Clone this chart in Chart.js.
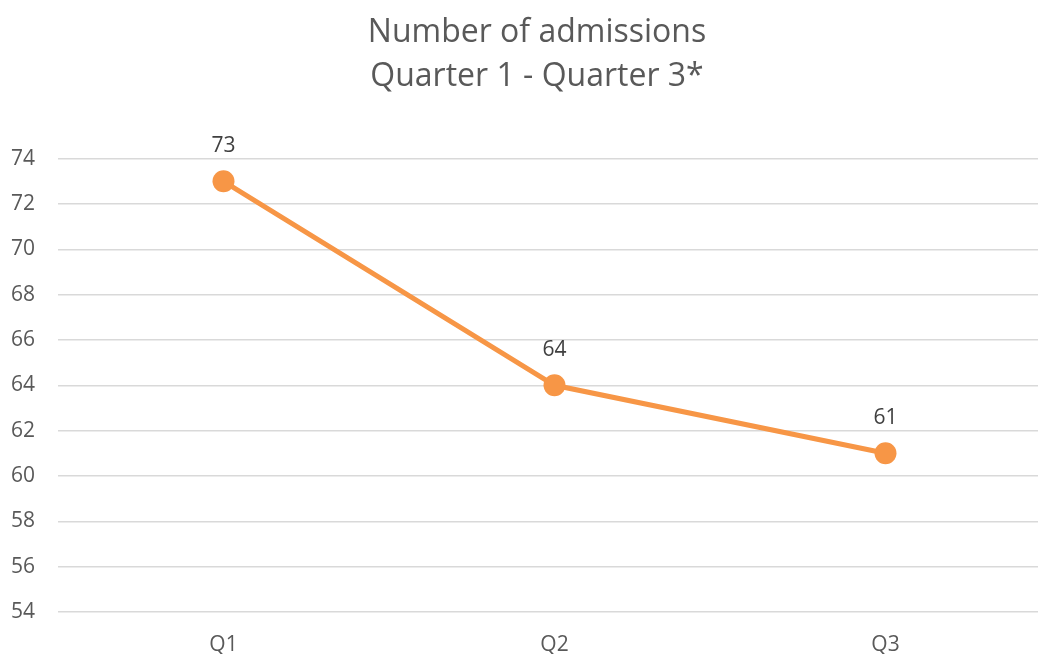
<!DOCTYPE html>
<html>
<head>
<meta charset="utf-8">
<script src="https://cdn.jsdelivr.net/npm/chart.js@4"></script>
<style>
html,body{margin:0;padding:0;background:#fff;overflow:hidden;width:1038px;height:654px;}
canvas{display:block;}
</style>
</head>
<body>
<canvas id="c" width="1062" height="654"></canvas>
<script>
const categories = ['Q1', 'Q2', 'Q3'];
const admissions = [73, 64, 61];
const titleLines = ['Number of admissions', 'Quarter 1 - Quarter 3*'];
const yMin = 54, yMax = 74, yStep = 2;

const FONT = "'Open Sans', 'Liberation Sans', sans-serif";

const dataLabels = {
  id: 'dataLabels',
  afterDatasetsDraw(chart) {
    const ctx = chart.ctx;
    const meta = chart.getDatasetMeta(0);
    ctx.save();
    ctx.fillStyle = '#404040';
    ctx.font = "21px " + FONT;
    ctx.textAlign = 'center';
    ctx.textBaseline = 'middle';
    meta.data.forEach((pt, i) => {
      ctx.fillText(String(chart.data.datasets[0].data[i]), pt.x, pt.y - 35);
    });
    ctx.restore();
  }
};

const titleShift = {
  id: 'titleShift',
  afterLayout(chart) {
    if (chart.titleBlock) {
      chart.titleBlock.left = 26;
      chart.titleBlock.right = 1048;
    }
  }
};

new Chart(document.getElementById('c'), {
  type: 'line',
  data: {
    labels: categories,
    datasets: [{
      data: admissions,
      borderColor: '#F79646',
      backgroundColor: '#F79646',
      borderWidth: 5,
      pointRadius: 11,
      pointHoverRadius: 11,
      pointBackgroundColor: '#F79646',
      pointBorderColor: '#F79646',
      pointBorderWidth: 0,
      tension: 0,
      fill: false
    }]
  },
  options: {
    responsive: false,
    animation: false,
    layout: { padding: { left: 0, right: 0, top: 0, bottom: 0 } },
    plugins: {
      legend: { display: false },
      tooltip: { enabled: false },
      title: {
        display: true,
        text: titleLines,
        color: '#595959',
        font: { family: FONT, size: 32, weight: 'normal', lineHeight: 1.4 },
        padding: { top: 10, bottom: 59 }
      }
    },
    scales: {
      x: {
        offset: true,
        afterFit(scale) { scale.height = 42; },
        grid: { display: false, drawTicks: false },
        border: { display: false },
        ticks: { color: '#595959', font: { family: FONT, size: 21 }, padding: 20 }
      },
      y: {
        min: yMin,
        max: yMax,
        afterFit(scale) { scale.width = 58; },
        grid: { color: '#d9d9d9', lineWidth: 1.5, drawTicks: false },
        border: { display: false },
        ticks: { stepSize: yStep, color: '#595959', font: { family: FONT, size: 21 }, padding: 23 }
      }
    }
  },
  plugins: [dataLabels, titleShift]
});
</script>
</body>
</html>
